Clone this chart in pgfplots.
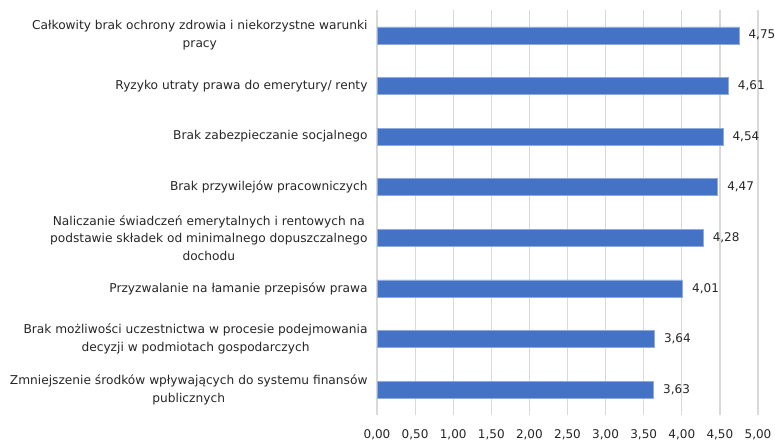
\documentclass[border=0pt]{standalone}
\usepackage{pgfplots}
\pgfplotsset{compat=1.18}
\usepackage{fontspec}
\setmainfont{DejaVu Sans}
\definecolor{barblue}{HTML}{4472C4}
\definecolor{gridgray}{HTML}{D9D9D9}
\begin{document}
\begin{tikzpicture}[x=1pt,y=1pt]
\useasboundingbox (0,0) rectangle (775,442);
\begin{axis}[
  at={(377pt,27pt)}, anchor=south west,
  scale only axis, width=381pt, height=405pt,
  xbar, bar width=17pt,
  xmin=0, xmax=5, ymin=-0.5, ymax=7.5,
  y dir=reverse,
  xtick={0,0.5,...,5},
  ytick={0,...,7},
  yticklabels={
    {Całkowity brak ochrony zdrowia i niekorzystne warunki\\pracy},
    {Ryzyko utraty prawa do emerytury/ renty},
    {Brak zabezpieczanie socjalnego},
    {Brak przywilejów pracowniczych},
    {Naliczanie świadczeń emerytalnych i rentowych na\\podstawie składek od minimalnego dopuszczalnego\\dochodu},
    {Przyzwalanie na łamanie przepisów prawa},
    {Brak możliwości uczestnictwa w procesie podejmowania\\decyzji w podmiotach gospodarczych},
    {Zmniejszenie środków wpływających do systemu finansów\\publicznych}},
  yticklabel style={align=center, font=\fontsize{12.2}{17.5}\selectfont, text=black!85, xshift=-6pt},
  xticklabel style={font=\fontsize{12}{13}\selectfont, text=black!85, yshift=-11pt},
  /pgf/number format/assume math mode=true,
  xticklabel={\pgfmathprintnumber[fixed, fixed zerofill, precision=2, use comma]{\tick}},
  major tick length=0pt,
  xmajorgrids, grid style={gridgray, line width=1.2pt},
  axis x line*=bottom, axis y line*=left,
  x axis line style={draw=none},
  y axis line style={draw=gridgray, line width=1.2pt},
  nodes near coords,
  nodes near coords style={font=\fontsize{12}{13}\selectfont, text=black!85, anchor=west, xshift=6pt,
    /pgf/number format/.cd, fixed, fixed zerofill, precision=2, use comma},
  clip=false,
]
\addplot[fill=barblue, draw=barblue!60!white, line width=0.6pt] coordinates {
  (4.75,0) (4.61,1) (4.54,2) (4.47,3) (4.28,4) (4.01,5) (3.64,6) (3.63,7)};
\end{axis}
\end{tikzpicture}
\end{document}
